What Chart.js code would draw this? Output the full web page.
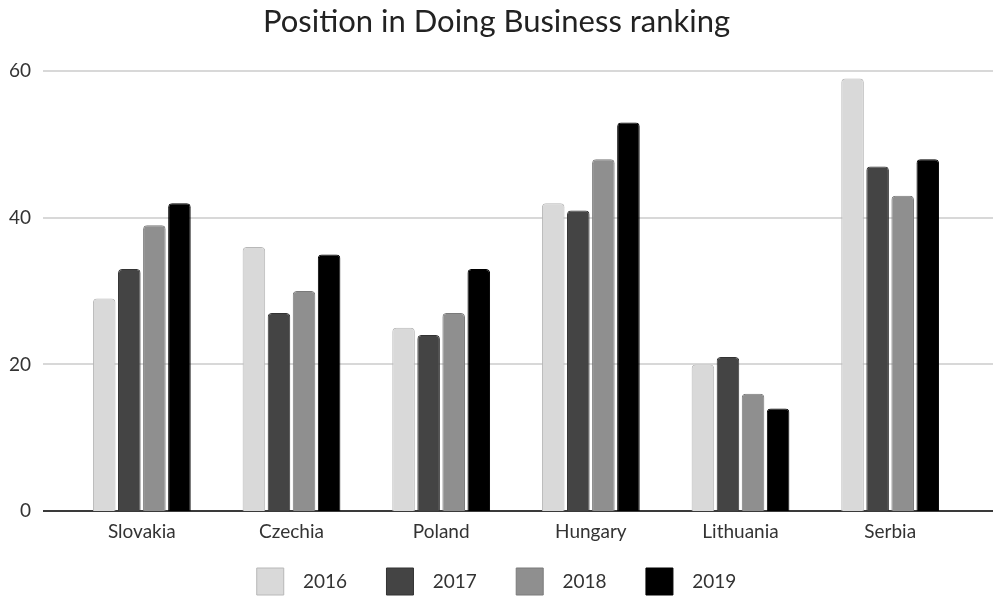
<!DOCTYPE html>
<html>
<head>
<meta charset="utf-8">
<script src="https://cdn.jsdelivr.net/npm/chart.js@4"></script>
<style>
  html, body { margin: 0; padding: 0; background: #fff; }
  #wrap { width: 993px; height: 597px; }
</style>
</head>
<body>
<div id="wrap"><canvas id="myChartCanvas"></canvas></div>
<script>
const countries = ['Slovakia', 'Czechia', 'Poland', 'Hungary', 'Lithuania', 'Serbia'];
const years = ['2016', '2017', '2018', '2019'];
const rank2016 = [29, 36, 25, 42, 20, 59];
const rank2017 = [33, 27, 24, 41, 21, 47];
const rank2018 = [39, 30, 27, 48, 16, 43];
const rank2019 = [42, 35, 33, 53, 14, 48];
const yTicks = [0, 20, 40, 60];

const fills = ['#d9d9d9', '#444444', '#8f8f8f', '#000000'];
const borders = ['#b8b8b8', '#333333', '#7a7a7a', '#000000'];
const series = [rank2016, rank2017, rank2018, rank2019];

// gridlines run wider than the bar area in the original
const wideGrid = {
  id: 'wideGrid',
  beforeDatasetsDraw(chart) {
    const ctx = chart.ctx;
    const y = chart.scales.y;
    ctx.save();
    yTicks.forEach(v => {
      const py = Math.round(y.getPixelForValue(v));
      ctx.beginPath();
      ctx.strokeStyle = v === 0 ? '#3a3a3a' : '#d8d8d8';
      ctx.lineWidth = 2;
      ctx.moveTo(43, py);
      ctx.lineTo(993, py);
      ctx.stroke();
    });
    ctx.restore();
  }
};

const data = {
  labels: countries,
  datasets: years.map((yr, i) => ({
    label: yr,
    data: series[i],
    backgroundColor: fills[i],
    borderColor: borders[i],
    borderWidth: 1,
    borderRadius: { topLeft: 4, topRight: 4 },
    borderSkipped: 'bottom',
    barPercentage: 0.9,
    categoryPercentage: 0.67
  }))
};

const config = {
  type: 'bar',
  data: data,
  plugins: [wideGrid],
  options: {
    responsive: true,
    maintainAspectRatio: false,
    animation: false,
    layout: { padding: { left: 0, right: 0, top: 0, bottom: -8 } },
    scales: {
      x: {
        grid: { display: false, drawTicks: false },
        border: { display: false },
        afterFit: s => { s.height = 54; },
        ticks: { color: '#333', font: { family: 'Lato', size: 19 }, padding: 9 }
      },
      y: {
        min: 0,
        max: 60,
        afterBuildTicks: s => { s.ticks = yTicks.map(v => ({ value: v })); },
        afterFit: s => { s.width = 67; },
        grid: { display: false, drawTicks: false },
        border: { display: false },
        ticks: { color: '#333', font: { family: 'Lato', size: 19 }, padding: 36 }
      },
      // empty right-hand spacer so the legend stays centred on the page
      yRight: {
        position: 'right',
        min: 0,
        max: 60,
        afterFit: s => { s.width = 28; },
        grid: { display: false, drawTicks: false },
        border: { display: false },
        ticks: { display: false }
      }
    },
    plugins: {
      title: {
        display: true,
        text: 'Position in Doing Business ranking',
        color: '#222',
        font: { family: 'Lato', size: 31, weight: 'normal' },
        padding: { top: 3, bottom: 31 }
      },
      legend: {
        position: 'bottom',
        labels: {
          color: '#333',
          font: { family: 'Lato', size: 19 },
          boxWidth: 27,
          boxHeight: 27,
          useBorderRadius: true,
          borderRadius: 4,
          padding: 3,
          generateLabels: chart => chart.data.datasets.map((ds, i, all) => ({
            text: '  ' + ds.label + (i < all.length - 1 ? '       \u2009' : ''),
            fillStyle: ds.backgroundColor,
            strokeStyle: ds.borderColor,
            lineWidth: 1,
            fontColor: '#333',
            datasetIndex: i,
            hidden: false
          }))
        }
      },
      tooltip: { enabled: false }
    }
  }
};

const canvasEl = document.getElementById('myChartCanvas');
const chart = new Chart(canvasEl, config);
</script>
</body>
</html>
